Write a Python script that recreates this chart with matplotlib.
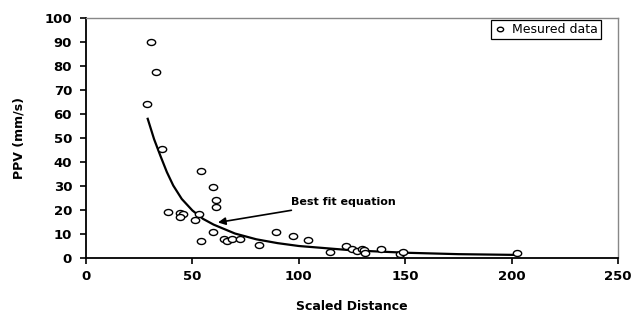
import numpy as np
import matplotlib.pyplot as plt
from matplotlib.path import Path

# measured points: scaled distance vs peak particle velocity
sd = [30.4, 32.9, 28.6, 35.5, 38.7, 44.0, 45.7, 44.2, 51.2, 53.3, 54.1, 54.0,
      59.5, 61.3, 60.9, 59.5, 65.0, 66.1, 68.5, 72.4, 81.3, 89.5, 97.5, 104.3,
      114.8, 122.2, 124.8, 127.4, 129.6, 130.5, 131.1, 138.4, 147.6, 148.9, 202.5]
ppv = [90.2, 77.7, 64.0, 45.3, 19.1, 18.9, 18.5, 17.0, 15.8, 18.3, 36.1, 6.9,
       29.5, 24.2, 21.4, 11.0, 7.9, 7.0, 8.1, 8.1, 5.6, 10.7, 9.3, 7.4,
       2.6, 5.0, 3.9, 2.8, 3.8, 3.3, 2.0, 3.6, 1.7, 2.7, 2.0]

# best fit curve
fit_sd = [29.0, 32, 35, 38, 41, 45, 50, 55, 60, 70, 80, 90, 100, 125, 150, 175, 201]
fit_ppv = [58.0, 49.5, 42.5, 35.8, 30.2, 24.6, 19.8, 16.3, 13.9, 10.2, 7.8, 6.2,
           5.0, 3.2, 2.2, 1.6, 1.3]

plt.rcParams['font.family'] = 'DejaVu Sans'

fig = plt.figure(figsize=(6.33, 3.21), dpi=100)
ax = fig.add_axes([86/633, 1-258/321, 532/633, 240/321])

# slightly flattened open circle
circ = Path.unit_circle()
ell = Path(circ.vertices * [1.0, 0.72], circ.codes)

ax.plot(fit_sd, fit_ppv, color='black', lw=1.6, zorder=2)
ax.plot(sd, ppv, ls='none', marker=ell, ms=6, mfc='white', mec='black',
        mew=1.0, label='Mesured data', zorder=3)

ax.annotate('Best fit equation', xy=(62, 14.8), xytext=(96.5, 23.5),
            fontsize=8, fontweight='bold', va='center', ha='left',
            arrowprops=dict(arrowstyle='-|>', color='black', lw=1.2,
                            mutation_scale=11, shrinkA=4, shrinkB=0))

ax.set_xlim(0, 250)
ax.set_ylim(0, 100)
ax.set_xticks(np.arange(0, 251, 50))
ax.set_yticks(np.arange(0, 101, 10))
ax.tick_params(direction='out', length=4, width=1.2, labelsize=9.5)
ax.tick_params(axis='y', pad=6)
ax.tick_params(axis='x', pad=5)
for lab in ax.get_xticklabels() + ax.get_yticklabels():
    lab.set_fontweight('bold')

for s in ['left', 'bottom']:
    ax.spines[s].set_linewidth(1.3)
    ax.spines[s].set_color('black')
for s in ['top', 'right']:
    ax.spines[s].set_linewidth(1.0)
    ax.spines[s].set_color('#888888')

ax.set_xlabel('Scaled Distance', fontsize=9, fontweight='bold', labelpad=12)
ax.set_ylabel('PPV (mm/s)', fontsize=9, fontweight='bold', labelpad=14)

leg = ax.legend(loc='upper right', fontsize=9, fancybox=False, framealpha=1,
                edgecolor='black', handlelength=1.0, handletextpad=0.45,
                markerscale=0.75, borderpad=0.25, borderaxespad=0.15,
                bbox_to_anchor=(0.972, 1.0))
leg.get_frame().set_linewidth(0.9)

fig.savefig('out.png', dpi=100)
